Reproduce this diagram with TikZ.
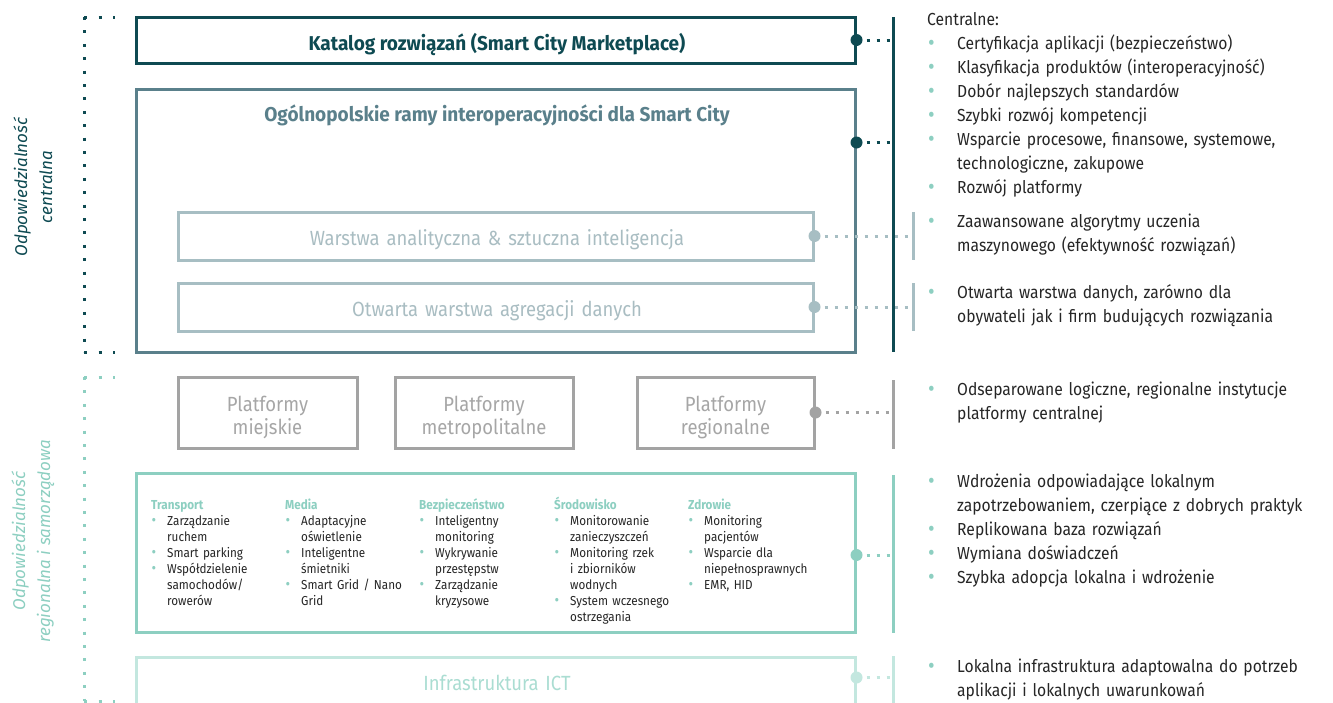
\documentclass[tikz,border=0pt]{standalone}
\usepackage{fontspec}
\setmainfont{Fira Sans}
\newfontfamily\condA[FakeStretch=0.9]{Fira Sans}
\newfontfamily\condB[FakeStretch=0.95]{Fira Sans}
\usetikzlibrary{calc}
\definecolor{cdark}{HTML}{0E4A52}
\definecolor{cmid}{HTML}{5A808B}
\definecolor{clight}{HTML}{A7BEC3}
\definecolor{clighttext}{HTML}{A9BDC2}
\definecolor{cgray}{HTML}{A3A3A3}
\definecolor{cgraytext}{HTML}{A6A6A6}
\definecolor{cteal}{HTML}{8DCFC1}
\definecolor{cpale}{HTML}{C3E7DF}
\definecolor{cpaletext}{HTML}{AADDD2}
\definecolor{ctext}{HTML}{262626}
\newcommand\rbul{\makebox[30pt][l]{\hspace{1pt}\raisebox{-1pt}{\scalebox{1.3}{\textcolor{cteal}{\textbullet}}}}}
\newcommand\rind{\hspace*{30pt}}
\newcommand\sbul{\makebox[16pt][l]{\hspace{0.5pt}\raisebox{-0.5pt}{\scalebox{1.2}{\textcolor{cteal}{\textbullet}}}}}
\newcommand\sind{\hspace*{16pt}}
\tikzset{
  layer/.style={draw, line width=3pt, inner sep=0pt, rectangle},
  dotc/.style={circle, minimum size=12pt, inner sep=0pt},
  conn/.style={line width=3pt, dash pattern=on 3pt off 7pt},
  bar/.style={line width=3pt},
  title/.style={anchor=base, inner sep=0pt, font=\condB\fontsize{20}{24}\selectfont\bfseries},
  ltitle/.style={anchor=base, inner sep=0pt, text width=600pt, align=center, font=\condA\fontsize{20.5}{23}\selectfont},
  rtext/.style={anchor=base west, inner sep=0pt, text width=430pt, align=left, text=ctext, font=\condA\fontsize{17.4}{24}\selectfont},
  stext/.style={anchor=base west, inner sep=0pt, text width=130pt, align=left, text=ctext, font=\condA\fontsize{13}{16}\selectfont},
  side/.style={rotate=90, align=center, inner sep=0pt, font=\fontsize{17}{25}\selectfont\itshape},
}
\begin{document}
\begin{tikzpicture}[x=1pt,y=-1pt]
\clip (0,0) rectangle (1333,702);
\fill[white] (0,0) rectangle (1333,702);

% ---------- left brackets ----------
\coordinate (lt1) at (84,17); \coordinate (lb1) at (84,352);
\coordinate (lt1e) at (115,17); \coordinate (lb1e) at (115,352);
\draw[cdark, line width=3pt, dash pattern=on 3pt off 10.4pt] (lt1) -- (lb1);
\draw[cdark, line width=3pt, dash pattern=on 3pt off 11.5pt] (lt1) -- (lt1e);
\draw[cdark, line width=3pt, dash pattern=on 3pt off 11.5pt] (lb1) -- (lb1e);
\coordinate (lt2) at (84,377); \coordinate (lb2) at (84,701);
\coordinate (lt2e) at (115,377); \coordinate (lb2e) at (115,701);
\draw[cteal, line width=3pt, dash pattern=on 3pt off 10.4pt] (lt2) -- (lb2);
\draw[cteal, line width=3pt, dash pattern=on 3pt off 11.5pt] (lt2) -- (lt2e);
\draw[cteal, line width=3pt, dash pattern=on 3pt off 11.5pt] (lb2) -- (lb2e);
\node[side, text=cdark] (side1) at (33,187) {Odpowiedzialność\\centralna};
\node[side, text=cteal] (side2) at (33,541) {Odpowiedzialność\\regionalna i samorządowa};

% ---------- boxes ----------
\node[layer, draw=cdark, minimum width=719pt, minimum height=46pt] (kat) at (495.5,40) {};
\node[layer, draw=cmid, minimum width=719pt, minimum height=263pt] (ogol) at (495.5,220.5) {};
\node[layer, draw=clight, minimum width=635pt, minimum height=48pt] (wa) at (495.5,236) {};
\node[layer, draw=clight, minimum width=635pt, minimum height=48pt] (wb) at (495.5,307) {};
\node[layer, draw=cgray, minimum width=179pt, minimum height=71pt] (p1) at (267.5,412.5) {};
\node[layer, draw=cgray, minimum width=178pt, minimum height=71pt] (p2) at (484,412.5) {};
\node[layer, draw=cgray, minimum width=177pt, minimum height=71pt] (p3) at (725.5,412.5) {};
\node[layer, draw=cteal, minimum width=719pt, minimum height=159pt] (sec) at (495.5,552.5) {};
\node[layer, draw=cpale, minimum width=719pt, minimum height=64pt] (infra) at (495.5,689) {};

% ---------- box texts ----------
\node[title, text=cdark] (katt) at (497,50.7) {Katalog rozwiązań (Smart City Marketplace)};
\node[title, text=cmid] (ogolt) at (497,121) {Ogólnopolskie ramy interoperacyjności dla Smart City};
\node[ltitle, text=clighttext] (wat) at (497,245.5) {Warstwa analityczna \& sztuczna inteligencja};
\node[ltitle, text=clighttext] (wbt) at (497,316) {Otwarta warstwa agregacji danych};
\node[ltitle, text=cgraytext] (p1t) at (267.5,411.7) {Platformy\\miejskie};
\node[ltitle, text=cgraytext] (p2t) at (484,411.7) {Platformy\\metropolitalne};
\node[ltitle, text=cgraytext] (p3t) at (725.5,411.7) {Platformy\\regionalne};
\node[ltitle, text=cpaletext] (inft) at (497,690) {Infrastruktura ICT};

% ---------- sector columns ----------
\node[stext] (c1) at (151,509) {{\bfseries\color{cteal}Transport}\\
\sbul Zarządzanie\\ \sind ruchem\\
\sbul Smart parking\\
\sbul Współdzielenie\\ \sind samochodów/\\ \sind rowerów};
\node[stext] (c2) at (285,509) {{\bfseries\color{cteal}Media}\\
\sbul Adaptacyjne\\ \sind oświetlenie\\
\sbul Inteligentne\\ \sind śmietniki\\
\sbul Smart Grid / Nano\\ \sind Grid};
\node[stext] (c3) at (419,509) {{\bfseries\color{cteal}Bezpieczeństwo}\\
\sbul Inteligentny\\ \sind monitoring\\
\sbul Wykrywanie\\ \sind przestępstw\\
\sbul Zarządzanie\\ \sind kryzysowe};
\node[stext] (c4) at (554,509) {{\bfseries\color{cteal}Środowisko}\\
\sbul Monitorowanie\\ \sind zanieczyszczeń\\
\sbul Monitoring rzek\\ \sind i zbiorników\\ \sind wodnych\\
\sbul System wczesnego\\ \sind ostrzegania};
\node[stext] (c5) at (688,509) {{\bfseries\color{cteal}Zdrowie}\\
\sbul Monitoring\\ \sind pacjentów\\
\sbul Wsparcie dla\\ \sind niepełnosprawnych\\
\sbul EMR, HID};

% ---------- connectors ----------
\coordinate (b1t) at (893,17); \coordinate (b1b) at (893,352);
\coordinate (b2t) at (913,212); \coordinate (b2b) at (913,260);
\coordinate (b3t) at (913,283); \coordinate (b3b) at (913,331);
\coordinate (b4t) at (893,380); \coordinate (b4b) at (893,449);
\coordinate (b5t) at (893,475); \coordinate (b5b) at (893,633);
\coordinate (b6t) at (893,656); \coordinate (b6b) at (893,710);
\coordinate (k1) at (kat.east);
\path (ogol.north east) ++(0,55) coordinate (k2);
\coordinate (k3) at (wa.east);
\coordinate (k4) at (wb.east);
\coordinate (k5) at (p3.east);
\path (sec.east) ++(0,2.5) coordinate (k6);
\path (infra.north east) ++(0,22) coordinate (k7);
\draw[conn, cdark] (k1) -- (k1 -| b1t);
\draw[conn, cdark] (k2) -- (k2 -| b1t);
\draw[conn, clight] (k3) -- (k3 -| b2t);
\draw[conn, clight] (k4) -- (k4 -| b3t);
\draw[conn, cgray] (k5) -- (k5 -| b4t);
\draw[conn, cteal] (k6) -- (k6 -| b5t);
\draw[conn, cpale] (k7) -- (k7 -| b6t);
\node[dotc, fill=cdark] (d1) at (k1) {};
\node[dotc, fill=cdark] (d2) at (k2) {};
\node[dotc, fill=clight] (d3) at (k3) {};
\node[dotc, fill=clight] (d4) at (k4) {};
\node[dotc, fill=cgray] (d5) at (k5) {};
\node[dotc, fill=cteal] (d6) at (k6) {};
\node[dotc, fill=cpale] (d7) at (k7) {};

% ---------- right bars ----------
\draw[bar, clight] (b2t) -- (b2b);
\draw[bar, clight] (b3t) -- (b3b);
\draw[bar, cdark] (b1t) -- (b1b);
\draw[bar, cgray] (b4t) -- (b4b);
\draw[bar, cteal] (b5t) -- (b5b);
\draw[bar, cpale] (b6t) -- (b6b);

% ---------- right texts ----------
\node[rtext] (r1) at (927,25.5) {Centralne:\\
\rbul Certyfikacja aplikacji (bezpieczeństwo)\\
\rbul Klasyfikacja produktów (interoperacyjność)\\
\rbul Dobór najlepszych standardów\\
\rbul Szybki rozwój kompetencji\\
\rbul Wsparcie procesowe, finansowe, systemowe,\\
\rind technologiczne, zakupowe\\
\rbul Rozwój platformy};
\node[rtext] (r2) at (927,227) {\rbul Zaawansowane algorytmy uczenia\\
\rind maszynowego (efektywność rozwiązań)};
\node[rtext] (r3) at (927,298.5) {\rbul Otwarta warstwa danych, zarówno dla\\
\rind obywateli jak i firm budujących rozwiązania};
\node[rtext] (r4) at (927,395.5) {\rbul Odseparowane logiczne, regionalne instytucje\\
\rind platformy centralnej};
\node[rtext] (r5) at (927,487.5) {\rbul Wdrożenia odpowiadające lokalnym\\
\rind zapotrzebowaniem, czerpiące z dobrych praktyk\\
\rbul Replikowana baza rozwiązań\\
\rbul Wymiana doświadczeń\\
\rbul Szybka adopcja lokalna i wdrożenie};
\node[rtext] (r6) at (927,672.5) {\rbul Lokalna infrastruktura adaptowalna do potrzeb\\
\rind aplikacji i lokalnych uwarunkowań};
\end{tikzpicture}
\end{document}
